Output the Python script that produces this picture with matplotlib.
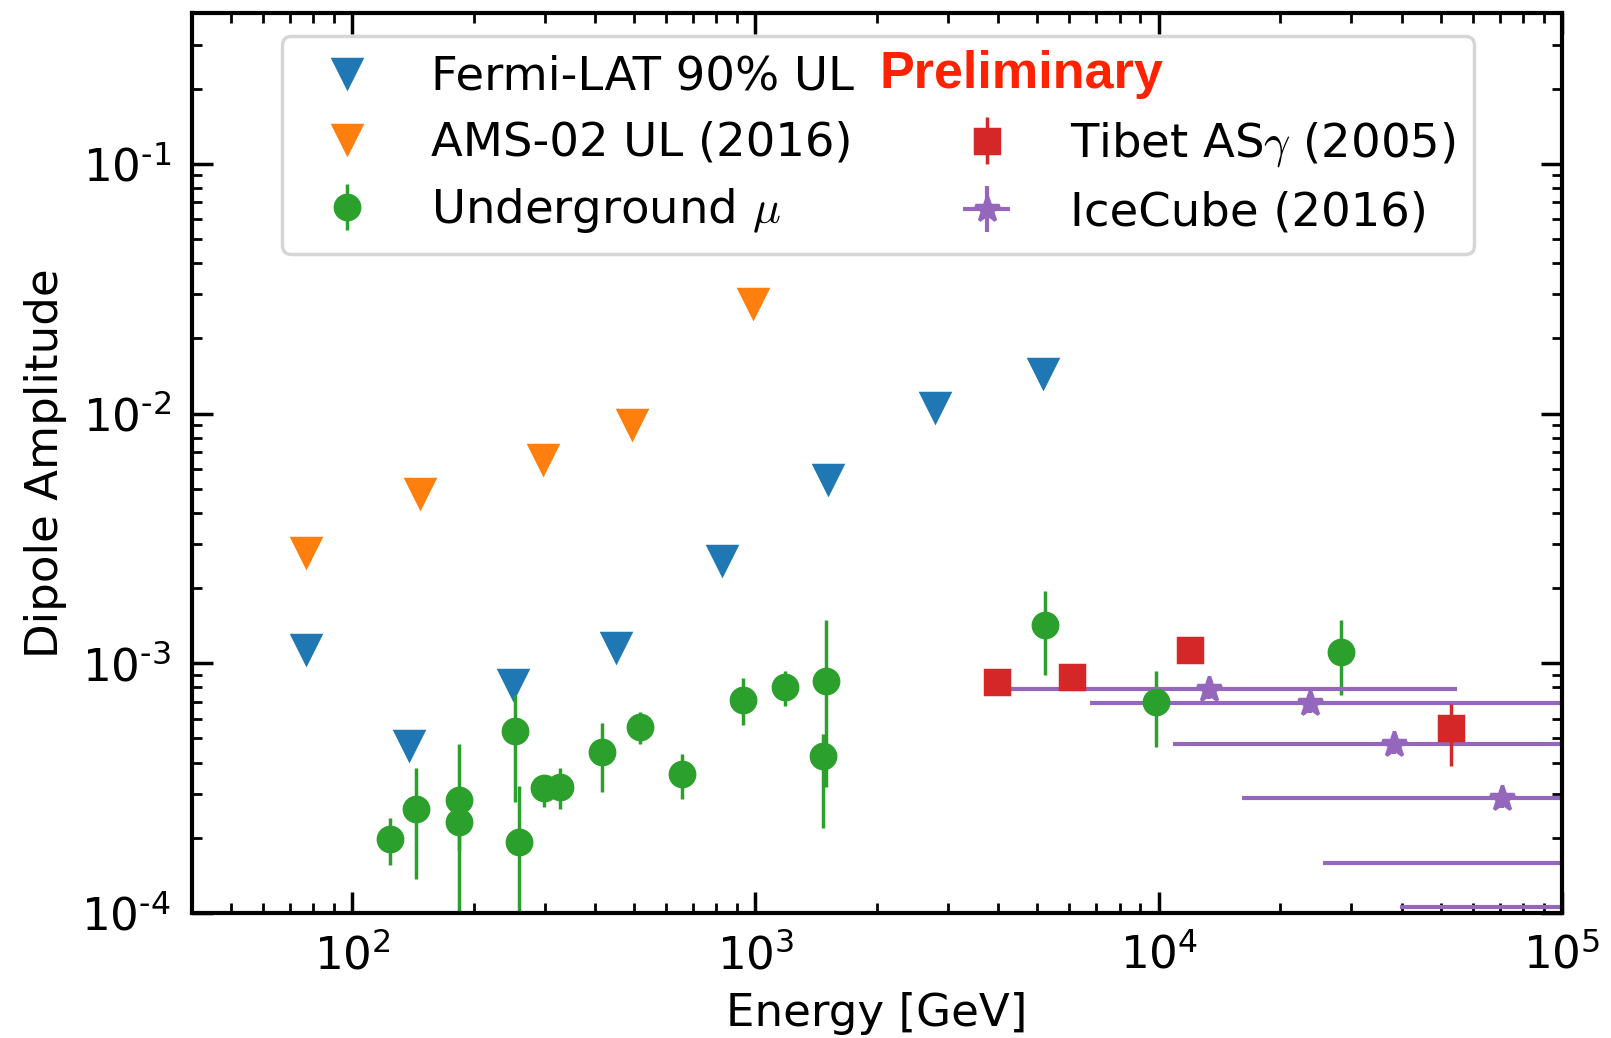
import numpy as np
import matplotlib.pyplot as plt
from matplotlib.lines import Line2D
from matplotlib.ticker import FuncFormatter

plt.rcParams['font.family'] = 'DejaVu Sans'
plt.rcParams['mathtext.fontset'] = 'dejavusans'
plt.rcParams['axes.unicode_minus'] = False

# Fermi-LAT 90% upper limits
fermi_E = [77, 138, 250, 450, 828, 1510, 2790, 5170]
fermi_A = [1.14e-3, 4.69e-4, 8.28e-4, 1.16e-3, 2.58e-3, 5.45e-3, 1.06e-2, 1.45e-2]

# AMS-02 upper limits
ams_E = [77, 147, 297, 494, 988]
ams_A = [2.78e-3, 4.82e-3, 6.59e-3, 9.1e-3, 2.76e-2]

# underground muons (value, lower and upper end of error bar)
mu_E = [124, 144, 184, 184, 253, 259, 299, 328, 417, 516, 657, 931, 1187, 1498, 1472, 5236, 9860, 28260]
mu_A = [1.97e-4, 2.60e-4, 2.83e-4, 2.32e-4, 5.34e-4, 1.93e-4, 3.17e-4, 3.19e-4, 4.42e-4,
        5.56e-4, 3.61e-4, 7.16e-4, 8.04e-4, 8.47e-4, 4.25e-4, 1.42e-3, 7.0e-4, 1.11e-3]
mu_lo = [1.56e-4, 1.37e-4, 1.78e-4, 0.5e-4, 2.79e-4, 0.5e-4, 2.66e-4, 2.60e-4, 3.05e-4,
         4.76e-4, 2.87e-4, 5.65e-4, 6.75e-4, 3.2e-4, 2.18e-4, 8.95e-4, 4.62e-4, 7.49e-4]
mu_hi = [2.40e-4, 3.81e-4, 4.74e-4, 2.9e-4, 7.45e-4, 3.23e-4, 3.58e-4, 3.81e-4, 5.74e-4,
         6.39e-4, 4.35e-4, 8.77e-4, 9.29e-4, 1.49e-3, 5.23e-4, 1.95e-3, 9.33e-4, 1.49e-3]

# Tibet AS-gamma
tibet_E = [3977, 6110, 11970, 53180]
tibet_A = [8.42e-4, 8.82e-4, 1.135e-3, 5.51e-4]
tibet_lo = [8.0e-4, 8.4e-4, 1.08e-3, 3.88e-4]
tibet_hi = [8.85e-4, 9.25e-4, 1.19e-3, 6.86e-4]

# IceCube (energy bins given as lower/upper edge)
ic_E = [13340, 23760, 38270, 70800, 130000, 240000]
ic_A = [7.92e-4, 6.93e-4, 4.77e-4, 2.89e-4, 1.59e-4, 1.06e-4]
ic_Elo = [4300, 6760, 10860, 16100, 25590, 39700]
ic_Ehi = [54950, 200000, 300000, 400000, 600000, 1000000]

c_blue, c_orange, c_green, c_red, c_purple = '#1f77b4', '#ff7f0e', '#2ca02c', '#d62728', '#9467bd'

fig = plt.figure(figsize=(1611 / 250, 1038 / 250), dpi=250)
ax = fig.add_axes([0.119, 0.1204, 0.8506, 0.8667])

def asym(vals, lo, hi):
    v = np.array(vals, dtype=float)
    return [v - np.array(lo), np.array(hi) - v]

fermi, = ax.plot(fermi_E, fermi_A, 'v', color=c_blue, ms=8, ls='none')
ams, = ax.plot(ams_E, ams_A, 'v', color=c_orange, ms=8, ls='none')
mu = ax.errorbar(mu_E, mu_A, yerr=asym(mu_A, mu_lo, mu_hi), fmt='o', color=c_green,
                 ms=7, elinewidth=1.0, capsize=0)
ic = ax.errorbar(ic_E, ic_A, xerr=asym(ic_E, ic_Elo, ic_Ehi),
                 yerr=[np.array(ic_A) * 0.09, np.array(ic_A) * 0.09],
                 fmt='*', color=c_purple, ms=7.5, elinewidth=1.2, capsize=0)
tibet = ax.errorbar(tibet_E, tibet_A, yerr=asym(tibet_A, tibet_lo, tibet_hi), fmt='s',
                    color=c_red, ms=7, elinewidth=1.0, capsize=0)

ax.set_xscale('log')
ax.set_yscale('log')
ax.set_xlim(40, 1e5)
ax.set_ylim(1e-4, 0.4)

# old-style labels with a plain hyphen in the exponent
def decade_label(v, pos):
    e = int(round(np.log10(v)))
    if e < 0:
        return r'$\mathdefault{10^{\text{-%d}}}$' % (-e)
    return r'$\mathdefault{10^{%d}}$' % e

ax.xaxis.set_major_formatter(FuncFormatter(decade_label))
ax.yaxis.set_major_formatter(FuncFormatter(decade_label))

ax.tick_params(which='both', direction='in', top=True, right=True, labelsize=13, pad=6)
ax.tick_params(which='major', length=6, width=1.0)
ax.tick_params(which='minor', length=3, width=0.8)
for s in ax.spines.values():
    s.set_linewidth(1.2)

ax.set_xlabel('Energy [GeV]', fontsize=13)
ax.set_ylabel('Dipole Amplitude', fontsize=13)

blank = Line2D([], [], ls='none', marker='none')
handles = [fermi, ams, mu, blank, tibet, ic]
labels = ['Fermi-LAT 90% UL', 'AMS-02 UL (2016)', r'Underground $\mu$', '',
          r'Tibet AS$\gamma$ (2005)', 'IceCube (2016)']
ax.legend(handles, labels, ncol=2, loc='upper left', bbox_to_anchor=(0.066, 0.975),
          borderaxespad=0, prop={'size': 13.4, 'math_fontfamily': 'cm'},
          columnspacing=1.85, labelspacing=0.45, framealpha=0.8, edgecolor='0.8')

ax.text(0.502, 0.9326, 'Preliminary', transform=ax.transAxes, color='#ff2200',
        fontsize=15, fontweight='bold', family='Liberation Sans', va='center', ha='left',
        zorder=10)

fig.savefig('out.png', dpi=250)
